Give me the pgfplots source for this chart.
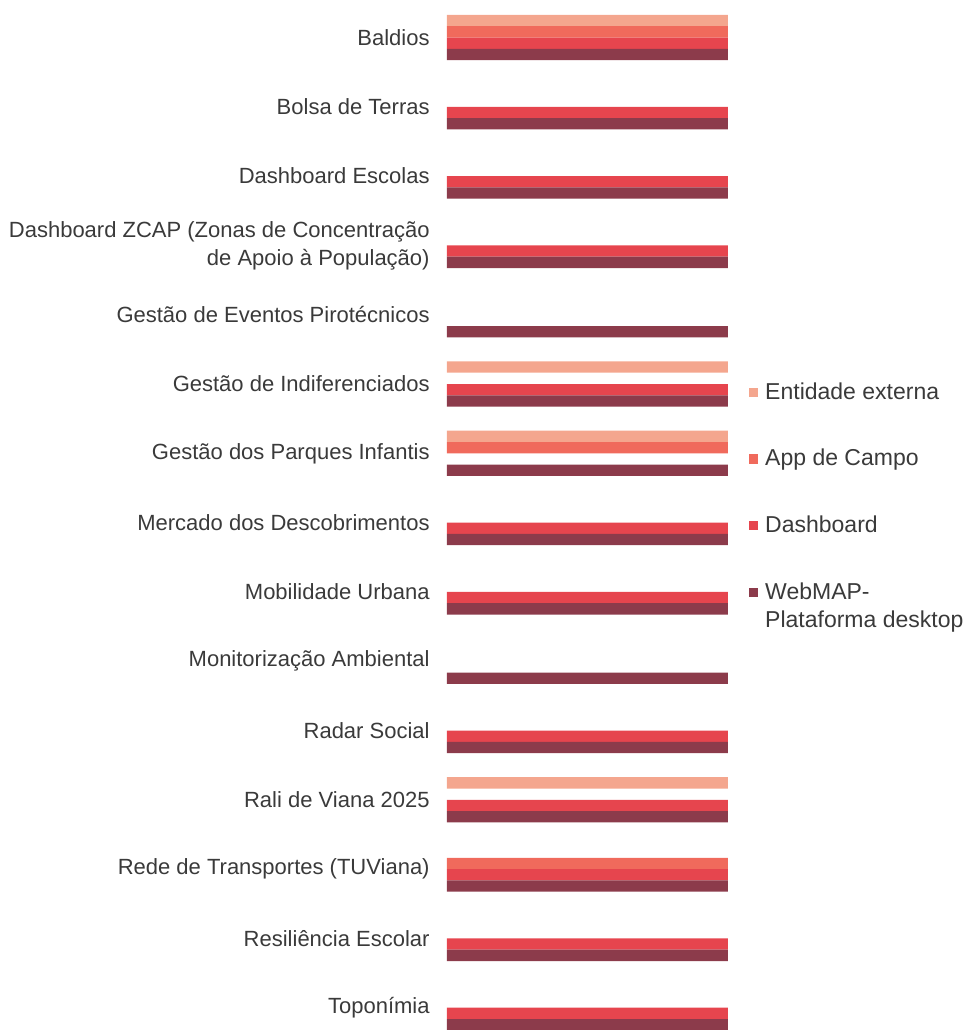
\documentclass[border=0pt]{standalone}
\usepackage{pgfplots}
\pgfplotsset{compat=1.18}
\usepackage{fontspec}
\setmainfont{Liberation Sans}
\definecolor{ee}{HTML}{F4A68E}
\definecolor{app}{HTML}{F06A5C}
\definecolor{dash}{HTML}{E6454E}
\definecolor{web}{HTML}{8C3B4B}
\definecolor{txt}{HTML}{3A3A3A}
\pgfplotsset{webleg/.style={legend image code/.code={\fill[##1] (0pt,4.6pt) rectangle (4.8pt,9.4pt);}}}
\begin{document}
\begin{tikzpicture}
\useasboundingbox (0,0) rectangle (482pt,-515pt);
\begin{axis}[
  at={(223.5pt,-18.75pt)}, anchor=origin,
  x=140.5pt, y=34.65pt, y dir=reverse,
  xmin=0, xmax=1, ymin=-0.5, ymax=14.5,
  xbar=0pt, bar width=5.65pt,
  axis line style={draw=none}, major tick length=0pt,
  xtick=\empty, ytick={0,...,14},
  yticklabels={Baldios,Bolsa de Terras,Dashboard Escolas,{Dashboard ZCAP (Zonas de Concentração\\de Apoio à População)},Gestão de Eventos Pirotécnicos,Gestão de Indiferenciados,Gestão dos Parques Infantis,Mercado dos Descobrimentos,Mobilidade Urbana,Monitorização Ambiental,Radar Social,Rali de Viana 2025,Rede de Transportes (TUViana),Resiliência Escolar,Toponímia},
  yticklabel style={align=right, font=\fontsize{11}{14}\selectfont, text=txt, inner sep=0pt, xshift=-8.5pt},
  legend style={at={(1.072,0.639)}, anchor=north west, draw=none, fill=none, inner sep=0pt,
    row sep=19.5pt, column sep=1.5pt, font=\fontsize{11.5}{14}\selectfont, text=txt, nodes={align=left}},
  legend cell align=left,
  legend image code/.code={\fill[#1] (0pt,-2.4pt) rectangle (4.8pt,2.4pt);},
  clip=false,
]
\addplot[fill=ee, draw=none, bar shift=8.475pt] coordinates {(1,0) (1,5) (1,6) (1,11)};
\addlegendentry{Entidade externa}
\addplot[fill=app, draw=none, bar shift=2.825pt] coordinates {(1,0) (1,6) (1,12)};
\addlegendentry{App de Campo}
\addplot[fill=dash, draw=none, bar shift=-2.825pt] coordinates {(1,0) (1,1) (1,2) (1,3) (1,5) (1,7) (1,8) (1,10) (1,11) (1,12) (1,13) (1,14)};
\addlegendentry{Dashboard}
\addplot[fill=web, draw=none, bar shift=-8.475pt, webleg] coordinates {(1,0) (1,1) (1,2) (1,3) (1,4) (1,5) (1,6) (1,7) (1,8) (1,9) (1,10) (1,11) (1,12) (1,13) (1,14)};
\addlegendentry{WebMAP-\\Plataforma desktop}
\end{axis}
\end{tikzpicture}
\end{document}
